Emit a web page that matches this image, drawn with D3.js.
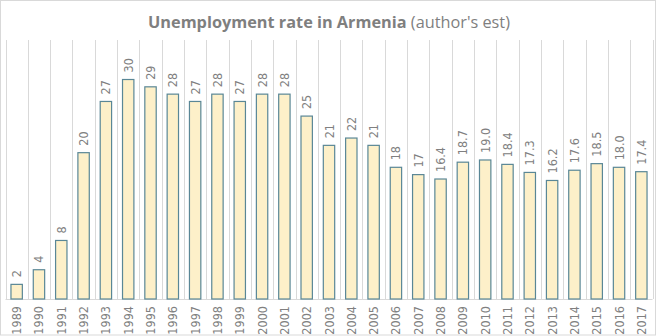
<!DOCTYPE html>
<html><head><meta charset="utf-8">
<script src="https://cdn.jsdelivr.net/npm/d3@7"></script>
<style>body{margin:0;background:#fff}svg{display:block}</style>
</head><body>
<svg id="c" width="658" height="336"></svg>
<script>
const years = ["1989","1990","1991","1992","1993","1994","1995","1996","1997","1998","1999","2000","2001","2002","2003","2004","2005","2006","2007","2008","2009","2010","2011","2012","2013","2014","2015","2016","2017"];
const rates = [2,4,8,20,27,30,29,28,27,28,27,28,28,25,21,22,21,18,17,16.4,18.7,19.0,18.4,17.3,16.2,17.6,18.5,18.0,17.4];
const labels = ["2","4","8","20","27","30","29","28","27","28","27","28","28","25","21","22","21","18","17","16.4","18.7","19.0","18.4","17.3","16.2","17.6","18.5","18.0","17.4"];
const titleBold = "Unemployment rate in Armenia";
const titleRest = " (author's est)";

const svg = d3.select("#c");
const W = 658, H = 336;
const m = {left: 5.5, right: 5.5, top: 40, bottom: 37};
svg.append("rect").attr("x",0.5).attr("y",0.5).attr("width",W-3).attr("height",H-1.5)
  .attr("fill","#fff").attr("stroke","#d9d9d9");

const x = d3.scaleBand().domain(years).range([m.left, W - m.right]).paddingInner(0.49).paddingOuter(0.245);
const step = x.step();
const y = d3.scaleLinear().domain([0, 35.4]).range([H - m.bottom, m.top]);
const base = y(0);

// vertical gridlines at category boundaries
const bounds = d3.range(years.length + 1).map(i => m.left + i * step);
svg.append("g").selectAll("line").data(bounds).join("line")
  .attr("x1", d => Math.round(d)+0.5).attr("x2", d => Math.round(d)+0.5)
  .attr("y1", m.top).attr("y2", base)
  .attr("stroke","#d9d9d9").attr("stroke-width",1);

// baseline
svg.append("line").attr("x1", m.left).attr("x2", W - m.right)
  .attr("y1", Math.round(base)+0.5).attr("y2", Math.round(base)+0.5)
  .attr("stroke","#d9d9d9");

// bars
svg.append("g").selectAll("rect").data(rates).join("rect")
  .attr("x", (d,i) => x(years[i]))
  .attr("y", d => y(d))
  .attr("width", x.bandwidth())
  .attr("height", d => base - y(d))
  .attr("fill","#fdf0c9").attr("stroke","#5a8796").attr("stroke-width",1.2);

// value labels
const font = "'Liberation Sans Narrow','DejaVu Sans Condensed','Liberation Sans',sans-serif";
svg.append("g").selectAll("text").data(rates).join("text")
  .attr("transform", (d,i) => `translate(${x(years[i]) + x.bandwidth()/2 + 4.5},${y(d) - 7}) rotate(-90)`)
  .attr("font-family", font).attr("font-size", 12.5).attr("fill","#808080")
  .text((d,i) => labels[i]);

// x axis labels
const xAxis = d3.axisBottom(x).tickSize(0).tickPadding(0);
const gx = svg.append("g").attr("transform", `translate(0,${base})`).call(xAxis);
gx.select(".domain").remove();
gx.selectAll("text")
  .attr("font-family", font).attr("font-size", 12.5).attr("fill","#808080")
  .attr("text-anchor","end").attr("dy", null).attr("y", 0).attr("x", 0)
  .attr("transform","translate(4.5,7) rotate(-90)");

// title
const t = svg.append("text").attr("x", W/2).attr("y", 28).attr("text-anchor","middle")
  .attr("font-family","'Open Sans','Noto Sans',sans-serif").attr("font-size",16.3).attr("fill","#7f7f7f");
t.append("tspan").attr("font-weight","bold").text(titleBold);
t.append("tspan").text(titleRest);
</script>
</body></html>
